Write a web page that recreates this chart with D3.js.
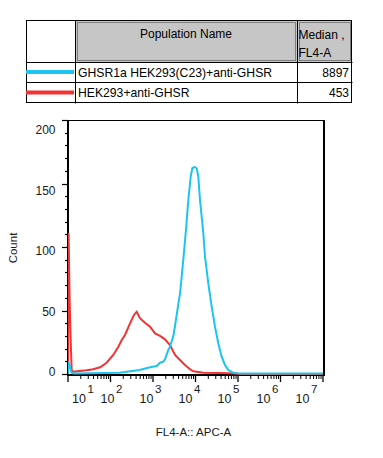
<!DOCTYPE html>
<html><head><meta charset="utf-8">
<script src="https://cdn.jsdelivr.net/npm/d3@7"></script>
<style>html,body{margin:0;padding:0;background:#fff}svg{display:block;font-family:"Liberation Sans",Arial,sans-serif}</style>
</head><body><svg id="c" width="383" height="458"></svg>
<script>
// ---- data ----
const populations = ["GHSR1a HEK293(C23)+anti-GHSR", "HEK293+anti-GHSR"];
const medians = [8897, 453];
const seriesColors = ["#1cc4f0", "#f23333"];
const headerCols = ["Population Name", "Median ,|FL4-A"];

const yMajorTicks = [0, 50, 100, 150, 200];
const xExponents = [1, 2, 3, 4, 5, 6, 7];

// HEK293+anti-GHSR (red)
const redFL4 = [10, 10.3, 10.9, 11.4, 12.2, 13.3, 19, 27.5, 39, 57, 81, 116, 153, 184, 219, 288, 357, 413, 494, 648, 850, 1115, 1462, 1916, 2512, 3296, 4318, 5662, 7430, 8880, 15280, 37670, 84900, 111400, 1e7];
const redCount = [0, 111, 60, 33, 3, 1.8, 2.4, 2.9, 3.7, 5.3, 8.9, 15, 21.5, 26.8, 30.7, 39.9, 46.5, 49, 43.9, 40.4, 37.2, 32, 30, 27.3, 22.8, 15, 11, 7.1, 3.7, 2.1, 1, 0.8, 0.3, 0, 0];

// GHSR1a HEK293(C23)+anti-GHSR (cyan)
const cyanFL4 = [10, 10.2, 11, 11.8, 12.6, 14.6, 163, 481, 850, 1222, 1462, 1747, 1916, 2291, 2512, 3006, 3300, 3937, 4318, 4733, 5155, 5966, 6770, 7710, 8410, 9500, 10670, 11640, 12760, 15280, 16740, 20010, 24040, 28760, 34360, 41300, 49400, 59100, 77450, 111400, 1e7];
const cyanCount = [0, 10, 6, 2, 0.5, 0.3, 1, 3.1, 5.3, 6.3, 8.9, 9.7, 11.6, 18.9, 21.5, 30, 38, 55, 63, 76.6, 89.8, 113.4, 137, 155.4, 162, 163, 162, 155.4, 137, 110.8, 92.4, 71.4, 53, 37.2, 24.2, 13.6, 7.1, 3.1, 1, 0.3, 0.3];

// ---- layout ----
const svg = d3.select("#c");
const L = 68, R = 323, T = 120, B = 374;
const x = d3.scaleLog().domain([10, 1e7]).range([L, R]);
const y = d3.scaleLinear().domain([0, 200]).range([B, T]);
const labelY = d3.scaleLinear().domain([0, 200]).range([372, 130]);
const labelX = d3.scaleLinear().domain([2, 7]).range([111.5, 306.5]);

// ---- table ----
const tb = svg.append("g");
const tX0 = 26, tX1 = 75, tX2 = 297, tX3 = 352, tY0 = 20, tY1 = 62, tY2 = 82, tY3 = 103;
[[tX1, tX2], [tX2, tX3]].forEach(([a, b]) => {
  tb.append("rect").attr("x", a + 1).attr("y", tY0 + 1).attr("width", b - a - 1).attr("height", tY1 - tY0 - 1).attr("fill", "#c6c6c6");
  tb.append("rect").attr("x", a + 2.5).attr("y", tY0 + 2.5).attr("width", b - a - 4).attr("height", tY1 - tY0 - 4)
    .attr("fill", "none").attr("stroke", "#7e7e7e").attr("stroke-width", 1);
});
tb.append("rect").attr("x", tX0 + 0.5).attr("y", tY0 + 0.5).attr("width", tX3 - tX0 - 1).attr("height", tY3 - tY0 - 1)
  .attr("fill", "none").attr("stroke", "#000");
[[tX1, tY0, tX1, tY3], [tX2, tY0, tX2, tY3], [tX0, tY1, tX3, tY1], [tX0, tY2, tX3, tY2]].forEach(d => {
  tb.append("line").attr("x1", d[0] + 0.5).attr("y1", d[1] + 0.5).attr("x2", d[2] + 0.5).attr("y2", d[3] + 0.5)
    .attr("stroke", "#000").attr("stroke-width", 1);
});
tb.append("text").attr("x", (tX1 + tX2) / 2).attr("y", 38).attr("text-anchor", "middle")
  .attr("font-size", 12).text(headerCols[0]);
headerCols[1].split("|").forEach((t, i) => {
  tb.append("text").attr("x", tX2 + 1.5).attr("y", 38.5 + i * 18).attr("font-size", 12).text(t);
});
populations.forEach((p, i) => {
  const cy = tY1 + (tY2 - tY1) / 2 + i * 20.5;
  tb.append("line").attr("x1", tX0).attr("x2", tX1 - 1).attr("y1", cy).attr("y2", cy)
    .attr("stroke", seriesColors[i]).attr("stroke-width", 4);
  tb.append("text").attr("x", tX1 + 3).attr("y", cy + 4.5).attr("font-size", 12.2).text(p);
  tb.append("text").attr("x", tX3 - 3).attr("y", cy + 4.5).attr("font-size", 12).attr("text-anchor", "end").text(medians[i]);
});

// ---- frame ----
svg.append("line").attr("x1", L).attr("x2", R + 2).attr("y1", T + 0.5).attr("y2", T + 0.5).attr("stroke", "#000");
svg.append("line").attr("x1", R + 1).attr("x2", R + 1).attr("y1", T).attr("y2", B + 2).attr("stroke", "#000").attr("stroke-width", 2);

// ---- y axis ticks ----
const ga = svg.append("g");
d3.range(0, 201, 10).forEach(v => {
  const major = yMajorTicks.includes(v);
  ga.append("line").attr("x1", L - (major ? 6 : 3)).attr("x2", L).attr("y1", Math.round(y(v)) + 0.5).attr("y2", Math.round(y(v)) + 0.5)
    .attr("stroke", "#000").attr("stroke-width", 1.2);
});
yMajorTicks.forEach(v => {
  ga.append("text").attr("x", 55.5).attr("y", labelY(v)).attr("dy", "0.36em").attr("text-anchor", "end")
    .attr("font-size", 12).attr("fill", "#1a1a1a").text(v);
});
// ---- x axis ticks ----
xExponents.forEach((k) => {
  const base = Math.pow(10, k);
  ga.append("line").attr("x1", x(base)).attr("x2", x(base)).attr("y1", B).attr("y2", B + 8)
    .attr("stroke", "#000").attr("stroke-width", 1.3);
  if (k < 7) d3.range(2, 10).forEach(m => {
    const xv = x(base * m);
    ga.append("line").attr("x1", xv).attr("x2", xv).attr("y1", B).attr("y2", B + 5)
      .attr("stroke", "#000").attr("stroke-width", 1);
  });
  const cx = Math.max(labelX(k), L + 15);
  const t = ga.append("text").attr("x", cx).attr("y", 402.5).attr("text-anchor", "middle").attr("fill", "#1a1a1a");
  t.append("tspan").attr("font-size", 12.5).text("10");
  t.append("tspan").attr("font-size", 11.5).attr("dx", 1.5).attr("dy", -9.5).text(k);
});

// axis lines
svg.append("line").attr("x1", L).attr("x2", L).attr("y1", T).attr("y2", B + 2).attr("stroke", "#000").attr("stroke-width", 2);
svg.append("line").attr("x1", L - 1).attr("x2", R + 2).attr("y1", B + 1).attr("y2", B + 1).attr("stroke", "#000").attr("stroke-width", 2);

// ---- curves ----
svg.append("clipPath").attr("id", "clip").append("rect").attr("x", L).attr("y", T).attr("width", R - L).attr("height", B - T + 1);
const line = d3.line().x(d => x(d[0])).y(d => y(d[1]));
const cg = svg.append("g").attr("clip-path", "url(#clip)");
cg.append("path").datum(d3.zip(redFL4, redCount)).attr("d", line).attr("fill", "none")
  .attr("stroke", seriesColors[1]).attr("stroke-width", 2);
cg.append("path").datum(d3.zip(cyanFL4, cyanCount)).attr("d", line).attr("fill", "none")
  .attr("stroke", seriesColors[0]).attr("stroke-width", 2);

// ---- titles ----
svg.append("text").attr("x", 193.5).attr("y", 436).attr("text-anchor", "middle").attr("font-size", 11.5).attr("fill", "#1a1a1a").text("FL4-A:: APC-A");
svg.append("text").attr("transform", "translate(17,248) rotate(-90)").attr("text-anchor", "middle").attr("font-size", 11.5).attr("fill", "#1a1a1a").text("Count");
</script></body></html>
